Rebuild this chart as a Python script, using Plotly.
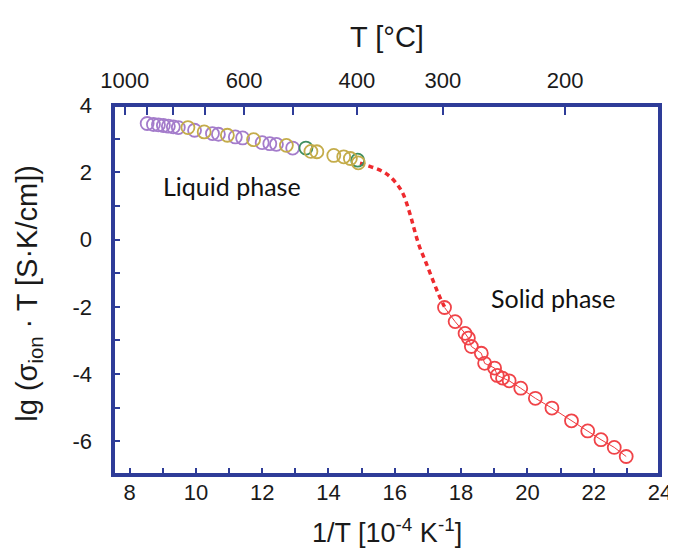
import plotly.graph_objects as go

# ---------------- data ----------------
# liquid phase (purple series)
liq_purple_x = [8.53, 8.72, 8.87, 9.02, 9.17, 9.32, 9.47, 9.96, 10.50, 10.68, 11.19, 11.41, 12.00, 12.23, 12.43, 12.92]
liq_purple_y = [3.45, 3.42, 3.41, 3.39, 3.37, 3.35, 3.33, 3.25, 3.15, 3.13, 3.05, 3.02, 2.88, 2.85, 2.83, 2.72]
# liquid phase (gold series)
liq_gold_x = [9.76, 10.25, 10.95, 11.74, 12.73, 13.47, 13.65, 14.16, 14.46, 14.66, 14.90]
liq_gold_y = [3.33, 3.20, 3.10, 2.97, 2.80, 2.62, 2.61, 2.50, 2.46, 2.41, 2.28]
# liquid phase (green series)
liq_green_x = [13.32, 14.88]
liq_green_y = [2.72, 2.36]
# transition (dotted)
trans_x = [14.95, 15.15, 15.74, 16.19, 16.44, 16.58, 16.73, 16.93, 17.13, 17.33, 17.50]
trans_y = [2.27, 2.21, 1.96, 1.47, 0.82, 0.33, -0.17, -0.66, -1.16, -1.65, -2.00]
# solid phase
sol_x = [17.50, 17.82, 18.12, 18.22, 18.31, 18.61, 18.71, 19.01, 19.09, 19.25, 19.45, 19.80,
         20.24, 20.74, 21.33, 21.82, 22.22, 22.62, 22.98]
sol_y = [-2.02, -2.44, -2.79, -2.93, -3.18, -3.38, -3.68, -3.82, -4.04, -4.12, -4.20, -4.42,
         -4.72, -5.01, -5.39, -5.69, -5.95, -6.18, -6.45]

# axes ticks
x_tickvals = [8, 10, 12, 14, 16, 18, 20, 22, 24]
x_ticktext = ["8", "10", "12", "14", "16", "18", "20", "22", "24"]
x_minorvals = [9, 11, 13, 15, 17, 19, 21, 23]
y_tickvals = [-6, -4, -2, 0, 2, 4]
y_ticktext = ["-6", "-4", "-2", "0", "2", "4"]
y_minorvals = [-7, -5, -3, -1, 1, 3]
top_T_labelled = [1000, 600, 400, 300, 200]
top_T_unlabelled = [900, 800, 700, 500]
top_tickvals = [10000.0 / (t + 273.15) for t in top_T_labelled]
top_ticktext = [str(t) for t in top_T_labelled]
top_minorvals = [10000.0 / (t + 273.15) for t in top_T_unlabelled]

BLUE = "#2E3C98"
FONT = "Liberation Sans, Arial, sans-serif"
TXT = "#1a1a1a"

fig = go.Figure()

fig.add_trace(go.Scatter(x=trans_x, y=trans_y, mode="lines",
                         line=dict(color="#EE2A2E", width=3.5, dash="5px,4px", shape="spline"),
                         hoverinfo="skip", showlegend=False))
fig.add_trace(go.Scatter(x=sol_x, y=sol_y, mode="lines+markers",
                         line=dict(color="#EE3A3E", width=1),
                         marker=dict(symbol="circle-open", size=13, color="#F04348", line=dict(width=1.8)),
                         showlegend=False))
fig.add_trace(go.Scatter(x=liq_purple_x, y=liq_purple_y, mode="markers",
                         marker=dict(symbol="circle-open", size=13, color="#A47CCB", line=dict(width=1.8)),
                         showlegend=False))
fig.add_trace(go.Scatter(x=liq_green_x, y=liq_green_y, mode="markers",
                         marker=dict(symbol="circle-open", size=13, color="#3F8E5F", line=dict(width=1.8)),
                         showlegend=False))
fig.add_trace(go.Scatter(x=liq_gold_x, y=liq_gold_y, mode="markers",
                         marker=dict(symbol="circle-open", size=13, color="#C4AC4A", line=dict(width=1.8)),
                         showlegend=False))
# invisible trace for the top axis
fig.add_trace(go.Scatter(x=[top_tickvals[0]], y=[0], xaxis="x2", mode="markers",
                         marker=dict(opacity=0), hoverinfo="skip", showlegend=False))

axis_font = dict(family=FONT, size=22, color=TXT)

fig.update_layout(
    width=676, height=551,
    margin=dict(l=105, r=15, t=97, b=84),
    paper_bgcolor="white", plot_bgcolor="white",
    font=dict(family=FONT, color=TXT),
    xaxis=dict(range=[7.5, 24], tickmode="array", tickvals=x_tickvals, ticktext=x_ticktext,
               ticks="inside", ticklen=7, tickwidth=1.6, tickcolor=BLUE,
               minor=dict(tickmode="array", tickvals=x_minorvals, ticks="inside",
                          ticklen=7, tickwidth=1.6, tickcolor=BLUE, showgrid=False),
               showgrid=False, zeroline=False, showline=False,
               tickfont=axis_font, ticklabelstandoff=2),
    xaxis2=dict(range=[7.5, 24], overlaying="x", side="top", anchor="y",
                tickmode="array", tickvals=top_tickvals, ticktext=top_ticktext,
                ticks="inside", ticklen=10, tickwidth=1.6, tickcolor=BLUE,
                minor=dict(tickmode="array", tickvals=top_minorvals, ticks="inside",
                           ticklen=10, tickwidth=1.6, tickcolor=BLUE, showgrid=False),
                showgrid=False, zeroline=False, showline=False,
                tickfont=axis_font, ticklabelstandoff=12),
    yaxis=dict(range=[-7, 4], tickmode="array", tickvals=y_tickvals, ticktext=y_ticktext,
               ticks="inside", ticklen=7, tickwidth=1.6, tickcolor=BLUE,
               minor=dict(tickmode="array", tickvals=y_minorvals, ticks="inside",
                          ticklen=7, tickwidth=1.6, tickcolor=BLUE, showgrid=False),
               showgrid=False, zeroline=False, showline=False,
               tickfont=axis_font, ticklabelstandoff=20),
    shapes=[dict(type="rect", xref="paper", yref="paper", x0=0, x1=1, y0=0, y1=1,
                 line=dict(color=BLUE, width=4), layer="above")],
    annotations=[
        dict(text="T [°C]", xref="paper", yref="paper", x=0.5, y=1, yshift=68,
             showarrow=False, font=dict(family=FONT, size=29, color=TXT),
             xanchor="center", yanchor="middle"),
        dict(text="1/T [10<sup>-4</sup> K<sup>-1</sup>]", xref="paper", yref="paper",
             x=0.5, y=0, yshift=-37, showarrow=False,
             font=dict(family=FONT, size=27, color=TXT),
             xanchor="center", yanchor="top"),
        dict(text="lg (σ<sub>ion</sub> · T [S·K/cm])", xref="paper", yref="paper",
             x=0, y=0.49, xshift=-84, textangle=-90, showarrow=False,
             font=dict(family=FONT, size=29, color=TXT),
             xanchor="center", yanchor="middle"),
        dict(text="Liquid phase", x=11.1, y=1.58, showarrow=False,
             font=dict(family="Lato, Open Sans, sans-serif", size=25, color="#111111")),
        dict(text="Solid phase", x=20.78, y=-1.75, showarrow=False,
             font=dict(family="Lato, Open Sans, sans-serif", size=25, color="#111111")),
    ],
)

fig.write_html("out.html")
